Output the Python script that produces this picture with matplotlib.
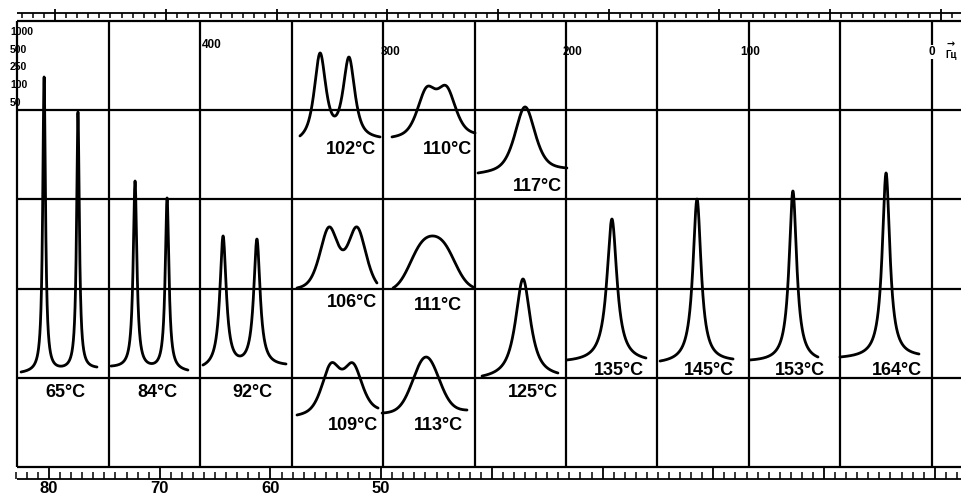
import numpy as np
import matplotlib.pyplot as plt

# NMR traces.
# x: frequency in Hz (0 Hz at the right), y: chart divisions above the bottom line
temps = ['65°C', '84°C', '92°C', '102°C', '110°C', '117°C', '106°C', '111°C',
         '125°C', '109°C', '113°C', '135°C', '145°C', '153°C', '164°C']
x_start = [497.8, 448.6, 398.4, 345.4, 295.1, 248.1, 347.0, 294.5,
           245.9, 347.0, 300.5, 199.5, 148.6, 99.5, 50.3]
x_end = [456.3, 406.6, 353.0, 301.6, 249.7, 199.5, 303.3, 250.8,
         204.4, 302.7, 254.1, 156.3, 108.7, 62.3, 7.1]
y_start = [1.065, 1.132, 1.143, 3.711, 3.700, 3.296, 2.007, 2.007,
           1.020, 0.583, 0.605, 1.200, 1.188, 1.200, 1.233]
y_end = [1.121, 1.087, 1.155, 3.700, 3.744, 3.352, 2.063, 2.018,
         1.054, 0.661, 0.639, 1.222, 1.211, 1.233, 1.267]
centers = [[485.2, 466.7], [435.5, 418.0], [387.4, 368.9], [334.4, 318.6],
           [276.2, 265.3], [222.4], [329.5, 314.2], [278.9, 266.9],
           [223.5], [328.4, 316.4], [276.5], [174.9], [128.4], [76.0], [25.1]]
tops = [[4.372, 3.980], [3.206, 3.016], [2.590, 2.556], [4.641, 4.596],
        [4.260, 4.271], [4.036], [2.691, 2.691], [2.522, 2.522],
        [2.108], [1.166, 1.166], [1.233], [2.780], [3.004], [3.094], [3.296]]
widths = [0.9, 1.2, 2.1, 3.8, 6.0, 6.6, 6.0, 8.2, 4.9, 6.0, 8.2, 3.3, 2.7, 2.5, 2.5]
lorentz_frac = [1.0, 1.0, 1.0, 0.8, 0.5, 0.6, 0.5, 0.0, 0.9, 0.5, 0.0, 1.0, 1.0, 1.0, 1.0]
label_x = [473.8, 423.0, 371.6, 317.5, 265.0, 215.8, 316.9, 269.9,
           218.0, 316.4, 269.9, 171.0, 121.9, 72.1, 19.1]
label_y = [0.83, 0.83, 0.83, 3.554, 3.554, 3.139, 1.839, 1.805,
           0.83, 0.471, 0.471, 1.087, 1.087, 1.087, 1.087]

# scale texts
hz_labels = ['400', '300', '200', '100']
hz_label_x = [393.4, 295.6, 196.7, 99.5]
hz_label_y = [4.731, 4.652, 4.652, 4.652]
amp_labels = ['1000', '500', '250', '100', '50']
amp_label_y = [4.877, 4.675, 4.484, 4.283, 4.081]
ruler_labels = [80, 70, 60, 50]


def line_shape(x, c, g, eta):
    d = (x - c) / g
    return eta / (1 + d ** 2) + (1 - eta) * np.exp(-np.log(2) * d ** 2)


def spectrum(i):
    x = np.linspace(x_start[i], x_end[i], 1500)
    t = (x - x_start[i]) / (x_end[i] - x_start[i])
    base = y_start[i] + t * (y_end[i] - y_start[i])
    basis = []
    for c in centers[i]:
        s = line_shape(x, c, widths[i], lorentz_frac[i])
        s = s - (s[0] + t * (s[-1] - s[0]))  # trace ends sit on the read end levels
        basis.append(s)
    basis = np.array(basis)
    idx = [np.argmin(np.abs(x - c)) for c in centers[i]]
    amp = np.linalg.solve(basis[:, idx].T, np.array(tops[i]) - base[idx])
    return x, base + amp @ basis


fig = plt.figure(figsize=(9.62, 4.97), dpi=100)
ax = fig.add_axes([0, 0, 1, 1])
x_left, x_right = 509.3, -16.4
ax.set_xlim(x_left, x_right)
ax.set_ylim(-0.336, 5.235)
ax.axis('off')

# chart grid
ax.vlines(np.arange(0, 501, 50), 0, 5, colors='black', lw=1.6)
ax.hlines(np.arange(0, 6), 500, x_right, colors='black', lw=1.6)

# rulers along top and bottom
hz_per_unit = 6.05
units = np.arange(-3, 84)
bottom_ticks = 482.5 - (80 - units) * hz_per_unit
top_ticks = 479.2 - (80 - units) * hz_per_unit
major = units % 10 == 0
ax.hlines([-0.135, 5.09], 500, x_right, colors='black', lw=1.3)
ax.vlines(bottom_ticks[~major], -0.135, -0.056, colors='black', lw=1.1)
ax.vlines(bottom_ticks[major], -0.135, 0.0, colors='black', lw=1.3)
ax.vlines(top_ticks[~major], 5.09, 5.03, colors='black', lw=1.1)
ax.vlines(top_ticks[major], 5.13, 5.0, colors='black', lw=1.3)
for v in ruler_labels:
    ax.text(482.5 - (80 - v) * hz_per_unit, -0.322, str(v), ha='center', va='bottom',
            fontsize=12, fontweight='bold', family='Liberation Sans')

# spectra
for i in range(len(temps)):
    x, y = spectrum(i)
    ax.plot(x, y, color='black', lw=2.0, solid_capstyle='round')
    ax.text(label_x[i], label_y[i], temps[i], ha='center', va='center',
            fontsize=13, fontweight='bold', family='Liberation Sans')

# frequency and amplitude scales
for s, xv, yv in zip(hz_labels, hz_label_x, hz_label_y):
    ax.text(xv, yv, s, ha='center', va='center', fontsize=8.5,
            fontweight='bold', family='Liberation Sans')
ax.text(0, 4.652, '0', ha='center', va='center', fontsize=8.5, fontweight='bold',
        family='Liberation Sans',
        bbox=dict(facecolor='white', edgecolor='none', pad=0.5))
ax.text(-10.4, 4.62, 'Гц', ha='center', va='center', fontsize=7,
        fontweight='bold', family='Liberation Sans')
ax.text(-10.4, 4.74, '→', ha='center', va='center', fontsize=7,
        fontweight='bold', family='DejaVu Sans')
for s, yv in zip(amp_labels, amp_label_y):
    ax.text(503.8, yv, s, ha='left', va='center', fontsize=7.5,
            fontweight='bold', family='Liberation Sans')

fig.savefig('out.png', dpi=100, facecolor='white')
